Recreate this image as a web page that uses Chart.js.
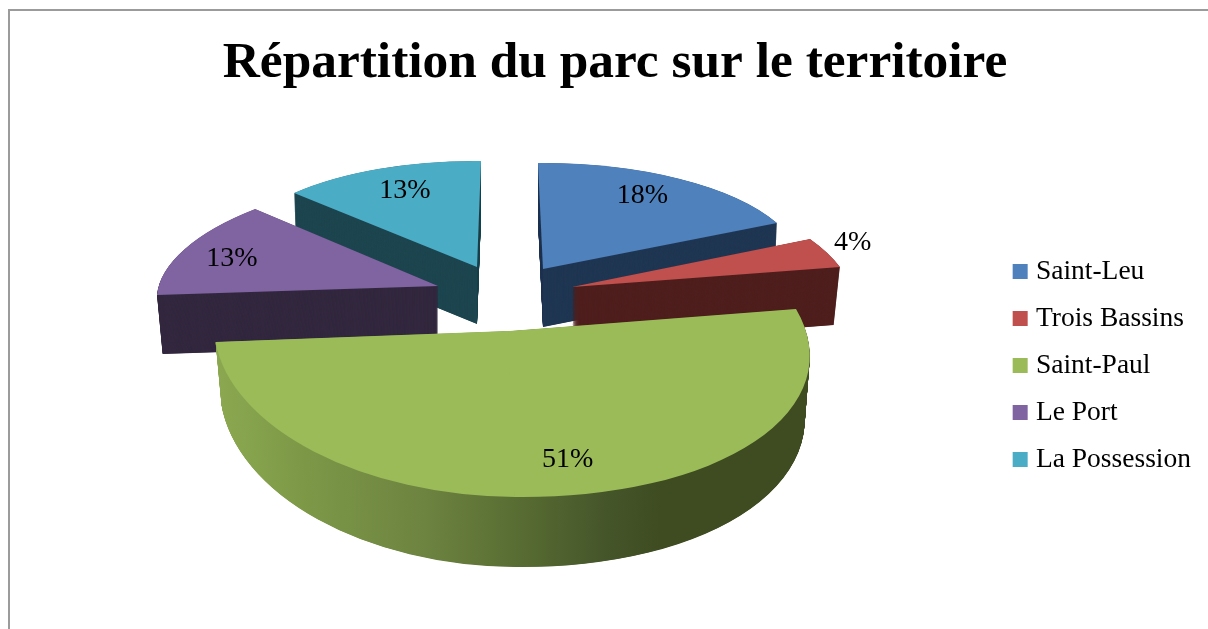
<!DOCTYPE html>
<html lang="fr"><head><meta charset="utf-8">
<style>
html,body{margin:0;padding:0;background:#fff;overflow:hidden}
#wrap{position:relative;width:1208px;height:629px}
#frame{position:absolute;left:8px;top:9px;right:0;bottom:0;border-left:2px solid #9b9b9b;border-top:2px solid #9b9b9b}
canvas{position:absolute;left:0;top:0}
</style>
<script src="https://cdn.jsdelivr.net/npm/chart.js@4/dist/chart.umd.min.js"></script>
</head><body>
<div id="wrap"><div id="frame"></div><canvas id="c" width="1208" height="629"></canvas></div>
<script>
const titleText = "Répartition du parc sur le territoire";
const categories = ["Saint-Leu","Trois Bassins","Saint-Paul","Le Port","La Possession"];
const shares = [18,4,51,13,13];
const topColors = ["#4f81bd","#c0504d","#9bbb59","#8064a2","#4bacc6"];
const wallColors = ["#203753","#4f1f1e","","#33283f","#1e4650"];
const drawOrder = [4,0,1,3,2];

// Pseudo-3D view: linear projections of the exploded disc, per slice.
// "until" = angle (degrees clockwise from 12 o'clock) at which a piece of a slice ends.
const sliceViews = [
 [{a:259.5,b:-2.2,c:5,d:106,e:543,f:269,depth:58,shrink:0.99,grow:0}],
 [{a:278.7,b:0.1,c:37.3,d:115.9,e:572,f:287,depth:58,shrink:0.977,grow:0}],
 [{until:180,a:330.6,b:4,c:38,d:163.6,e:477,f:333.4,depth:62,shrink:0.985,grow:8},
  {a:293.9,b:2.2,c:7,d:166,e:508,f:331,depth:62,shrink:0.98,grow:8}],
 [{a:279.3,b:0,c:-32.9,d:113.5,e:438,f:286,depth:59,shrink:0.98,grow:0}],
 [{a:252.7,b:2.86,c:-4,d:106,e:477,f:267,depth:57,shrink:0.99,grow:0}]
];
const labelFractions = [0.73,1.1,0.75,0.81,0.77];
const labelNudges = [[0,-7],[0,-7],[31,4],[-1,3],[3,-1]];
const greenWallRange = [216,810];
const greenWallStops = [[0,"#8ba850"],[0.15,"#7c9847"],[0.35,"#6d8340"],[0.5,"#596e33"],[0.66,"#45552a"],[0.75,"#3f4c22"],[1,"#3f4c22"]];

function applyView(ctx, arc, v, t){
  const R = arc.outerRadius, s = 1 - (1 - v.shrink) * t, dG = v.grow * t;
  ctx.setTransform(v.a*s/R, v.b/R, v.c*s/R, (v.d+dG)/R, v.e, v.f + v.depth*t);
  ctx.translate(-arc.x, -arc.y);
}
function wallFill(ctx, arc, v){
  // gradient that follows the screen x of the projected wall
  const R = arc.outerRadius, n = v.a*v.a+v.c*v.c;
  const pt = X => { const g=(X-v.e)/n; return [arc.x+R*g*v.a, arc.y+R*g*v.c]; };
  const p0=pt(greenWallRange[0]), p1=pt(greenWallRange[1]);
  const grad = ctx.createLinearGradient(p0[0],p0[1],p1[0],p1[1]);
  greenWallStops.forEach(s=>grad.addColorStop(s[0],s[1]));
  return grad;
}
function piecesOf(arc, views){
  let start = arc.startAngle;
  return views.map((v,i)=>{
    const end = v.until!==undefined ? v.until*Math.PI/180 - Math.PI/2 : arc.endAngle;
    const piece = {v,start,end}; start = end; return piece;
  });
}
const pie3d = {
  id:'pie3d',
  beforeDatasetsDraw(chart){
    const ctx = chart.ctx, arcs = chart.getDatasetMeta(0).data;
    drawOrder.forEach(i=>{
      const arc = arcs[i], base = arc.options, s0=arc.startAngle, e0=arc.endAngle, c0=arc.circumference;
      const pieces = piecesOf(arc, sliceViews[i]);
      const use = p => { arc.startAngle=p.start; arc.endAngle=p.end; arc.circumference=p.end-p.start; };
      pieces.forEach(p=>{
        use(p);
        const v=p.v, steps=Math.round(v.depth)*3;
        arc.options = Object.assign({},base,{backgroundColor:wallColors[i]||wallFill(ctx,arc,v),borderWidth:0});
        for(let k=steps;k>=1;k--){
          ctx.save(); applyView(ctx,arc,v,k/steps); arc.draw(ctx); ctx.restore();
        }
      });
      arc.options = base;
      pieces.forEach(p=>{ use(p); ctx.save(); applyView(ctx,arc,p.v,0); arc.draw(ctx); ctx.restore(); });
      arc.startAngle=s0; arc.endAngle=e0; arc.circumference=c0;
    });
    ctx.save();
    ctx.setTransform(1,0,0,1,0,0);
    ctx.fillStyle="#000"; ctx.font="28px 'Liberation Serif'"; ctx.textAlign="center"; ctx.textBaseline="middle";
    arcs.forEach((arc,i)=>{
      const v=sliceViews[i][0], mid=(arc.startAngle+arc.endAngle)/2, t=labelFractions[i];
      const lx=Math.cos(mid)*t, ly=Math.sin(mid)*t;
      const x=v.e+v.a*lx+v.c*ly+labelNudges[i][0], y=v.f+v.b*lx+v.d*ly+labelNudges[i][1];
      ctx.fillText(shares[i]+"%",x,y);
    });
    ctx.restore();
    return false;
  }
};
new Chart(document.getElementById('c'),{
  type:'pie',
  data:{labels:categories,datasets:[{data:shares,backgroundColor:topColors,borderWidth:0}]},
  plugins:[pie3d],
  options:{
    responsive:false,animation:false,
    layout:{padding:{left:29,right:7,top:10,bottom:-92}},
    plugins:{
      tooltip:{enabled:false},
      title:{display:true,text:titleText,color:"#000",font:{family:"'Liberation Serif'",size:51.4,weight:'bold'},padding:{top:23,bottom:10}},
      legend:{position:'right',labels:{
        color:"#000",font:{family:"'Liberation Serif'",size:27.5},boxWidth:4,boxHeight:4,padding:19.5,
        generateLabels(chart){
          return Chart.overrides.pie.plugins.legend.labels.generateLabels(chart).map((it,i)=>Object.assign(it,{strokeStyle:topColors[i],fillStyle:topColors[i],lineWidth:11,lineJoin:'miter'}));
        }
      }}
    }
  }
});
</script>
</body></html>
